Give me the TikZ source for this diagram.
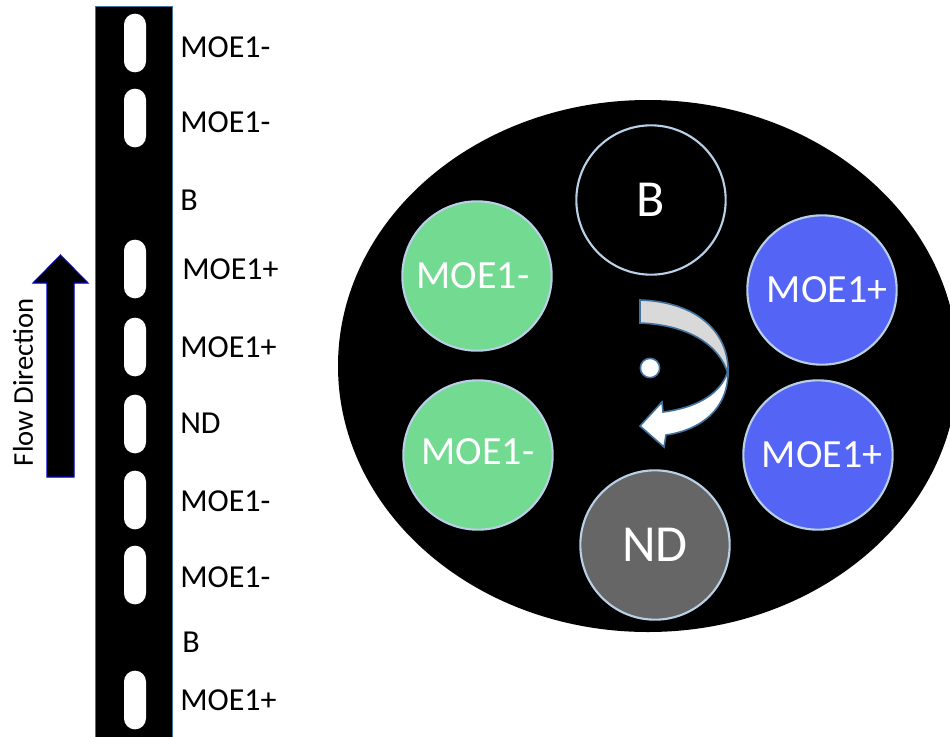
\documentclass[tikz,border=0pt]{standalone}
\usepackage{fontspec}
\setmainfont{Carlito}
\definecolor{mgreen}{HTML}{72DA91}
\definecolor{mblue}{HTML}{5465F5}
\definecolor{ndgray}{HTML}{666666}
\definecolor{ringc}{HTML}{B8CFE6}
\definecolor{arrowedge}{HTML}{41719C}
\definecolor{bandgray}{HTML}{D9D9D9}
\begin{document}
\begin{tikzpicture}[x=0.75pt,y=-0.75pt,
  slot/.style={rectangle,fill=white,minimum width=16.5pt,minimum height=44pt,rounded corners=8.2pt,inner sep=0pt},
  lab/.style={anchor=west,inner sep=0pt,font=\fontsize{24}{28}\selectfont},
  well/.style={circle,minimum size=112pt,inner sep=0pt,draw=ringc,line width=1.6pt,text=white},
  wlab/.style={font=\fontsize{30}{34}\selectfont},
  wbig/.style={font=\fontsize{39}{44}\selectfont}]
\useasboundingbox (0,0) rectangle (950,736);
% strip
\filldraw[fill=black,draw=arrowedge,line width=0.6pt] (95,6) rectangle (172,740);
\node[slot] (s1) at (135,43) {};
\node[slot] (s2) at (135,118) {};
\node[slot] (s3) at (135,269) {};
\node[slot] (s4) at (135,347) {};
\node[slot] (s5) at (135,424) {};
\node[slot] (s6) at (135,500) {};
\node[slot] (s7) at (135,575) {};
\node[slot] (s8) at (135,700) {};
\node[lab] (l1) at (180,47) {MOE1-};
\node[lab] (l2) at (180,122) {MOE1-};
\node[lab] (l3) at (180,200) {B};
\node[lab] (l4) at (182,269) {MOE1+};
\node[lab] (l5) at (180,347) {MOE1+};
\node[lab] (l6) at (180,423) {ND};
\node[lab] (l7) at (180,501) {MOE1-};
\node[lab] (l8) at (180,577) {MOE1-};
\node[lab] (l9) at (182,642) {B};
\node[lab] (l10) at (180,700) {MOE1+};
% flow arrow
\filldraw[fill=black,draw=blue!80!black,line width=0.8pt]
  (47,477) -- (47,283) -- (33,283) -- (60.5,255) -- (88,283) -- (74,283) -- (74,477) -- cycle;
\node[rotate=90,inner sep=0pt,font=\fontsize{21.5}{26}\selectfont] (flow) at (23,382) {Flow Direction};
% big ellipse
\fill[black] (648,366) ellipse [x radius=232.5pt, y radius=199.5pt];
% wells
\node[well,fill=black] (wb) at (651,200) {};
\node[wbig,text=white] (tb) at (wb) {B};
\node[well,fill=mgreen] (wg1) at (477,276) {};
\node[wlab,text=white] (tg1) at (473,276) {MOE1-};
\node[well,fill=mblue] (wp1) at (822,290) {};
\node[wlab,text=white] (tp1) at (827,290) {MOE1+};
\node[well,fill=mgreen] (wg2) at (478,455) {};
\node[wlab,text=white] (tg2) at (478,452) {MOE1-};
\node[well,fill=mblue] (wp2) at (818,455) {};
\node[wlab,text=white] (tp2) at (822,455) {MOE1+};
\node[well,fill=ndgray] (wnd) at (655,545) {};
\node[wbig,text=white] (tnd) at (wnd) {ND};
% rotation arrow
\filldraw[fill=bandgray,draw=arrowedge,line width=1.2pt]
  (640,300) .. controls (700,302) and (730,335) .. (728,374)
  .. controls (720,346) and (690,325) .. (640,323) -- cycle;
\filldraw[fill=white,draw=arrowedge,line width=1.2pt]
  (728,372) .. controls (728,410) and (700,430) .. (666,435)
  -- (664,447) -- (640,426) -- (662,402) -- (663,412)
  .. controls (695,408) and (718,395) .. (726,376) -- cycle;
\node[circle,fill=white,draw=arrowedge,line width=1.2pt,minimum size=14.5pt,inner sep=0pt] (dot) at (650,368) {};
\end{tikzpicture}
\end{document}
